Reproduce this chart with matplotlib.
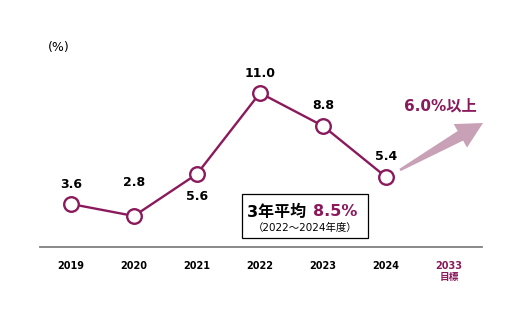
import numpy as np
import matplotlib.pyplot as plt
from matplotlib.patches import Polygon

plt.rcParams['font.family'] = ['DejaVu Sans', 'Noto Sans CJK JP']

years = ['2019', '2020', '2021', '2022', '2023', '2024']
rates = [3.6, 2.8, 5.6, 11.0, 8.8, 5.4]
target_label = '2033\n目標'
target_text = '6.0%以上'
avg_title = '3年平均 '
avg_value = '8.5%'
avg_sub = '（2022～2024年度）'

purple = '#8a1a5c'
arrow_col = '#c9a1b6'

# label offsets in points (above, except 2021 below)
offsets = [14, 24, 16, 14, 15, 15]
below = [False, False, True, False, False, False]

fig = plt.figure(figsize=(5.22, 3.24), dpi=100)
ax = fig.add_axes([40/522, 77/324, 442/522, 207/324])
ax.set_xlim(-0.492, 6.524)
ax.set_ylim(0.733, 14.53)

x = list(range(len(years)))
ax.plot(x, rates, color=purple, lw=1.7, marker='o', ms=10.5,
        mfc='white', mec=purple, mew=1.7, zorder=3)

for i, v in enumerate(rates):
    dy = -offsets[i] if below[i] else offsets[i]
    ax.annotate(f'{v:.1f}', (i, v), xytext=(0, dy), textcoords='offset points',
                ha='center', va='center', fontsize=9, fontweight='bold')

ticks = x + [len(years)]
ax.set_xticks(ticks)
ax.set_xticklabels(years + [target_label], fontsize=7, fontweight='bold',
                   linespacing=1.15)
ax.get_xticklabels()[-1].set_color(purple)
ax.tick_params(axis='x', length=0, pad=10)
ax.set_yticks([])
for s in ['top', 'left', 'right']:
    ax.spines[s].set_visible(False)
ax.spines['bottom'].set_color('#808080')
ax.spines['bottom'].set_linewidth(1.3)

ax.text(-0.2, 14.0, '(%)', ha='center', va='center', fontsize=9)

# tapered arrow, drawn in pixel space
p0 = np.array([400.0, 170.0])
tip = np.array([483.0, 123.0])
u = (tip - p0) / np.linalg.norm(tip - p0)
n = np.array([-u[1], u[0]])
base = tip - 26 * u
pts = [p0 + 1.3 * n, base + 5.5 * n, base + 13.5 * n, tip,
       base - 13.5 * n, base - 5.5 * n, p0 - 1.3 * n]
pts = [(p[0] / 100, (324 - p[1]) / 100) for p in pts]
fig.patches.append(Polygon(pts, closed=True, color=arrow_col, lw=0,
                           transform=fig.dpi_scale_trans))

ax.text(5.86, 10.1, target_text, ha='center', va='center', fontsize=11,
        fontweight='bold', color=purple)

# 3-year average box
ax.add_patch(plt.Rectangle((2.714, 1.33), 2.0, 2.94, fill=False,
                           ec='black', lw=0.9, clip_on=False))
ax.text(3.82, 3.07, avg_title, ha='right', va='center', fontsize=11.5,
        fontweight='bold')
ax.text(3.84, 3.07, avg_value, ha='left', va='center', fontsize=11.5,
        fontweight='bold', color=purple)
ax.text(3.72, 2.0, avg_sub, ha='center', va='center', fontsize=7.5)

fig.savefig('out.png', dpi=100, facecolor='white')
